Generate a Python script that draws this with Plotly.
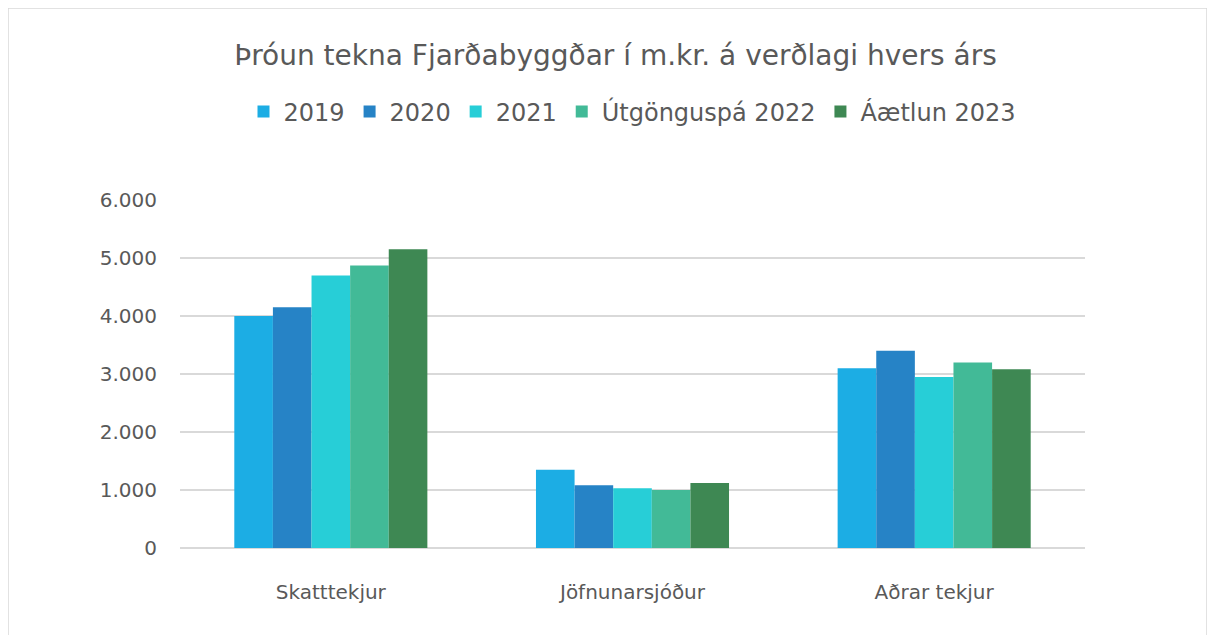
import plotly.graph_objects as go

categories = ["Skatttekjur", "Jöfnunarsjóður", "Aðrar tekjur"]
series_names = ["2019", "2020", "2021", "Útgönguspá 2022", "Áætlun 2023"]
values_2019 = [4000, 1350, 3100]
values_2020 = [4150, 1080, 3400]
values_2021 = [4700, 1030, 2950]
values_2022 = [4870, 1000, 3200]
values_2023 = [5150, 1120, 3080]
y_ticks = [0, 1000, 2000, 3000, 4000, 5000, 6000]

colors = ["#1CADE4", "#2683C6", "#27CED7", "#42BA97", "#3E8853"]
all_values = [values_2019, values_2020, values_2021, values_2022, values_2023]

fig = go.Figure()
for name, vals, col in zip(series_names, all_values, colors):
    fig.add_trace(go.Bar(name=name, x=categories, y=vals, marker=dict(color=col, line=dict(width=0))))

L, R, T, B = 172, 138, 192, 95
PW, PH = 1215 - L - R, 635 - T - B

font_family = "'DejaVu Sans', sans-serif"
fig.update_layout(
    width=1215, height=635,
    paper_bgcolor="white", plot_bgcolor="white",
    margin=dict(l=L, r=R, t=T, b=B),
    barmode="group", bargap=0.36, bargroupgap=0,
    separators=",.",
    font=dict(family=font_family, color="#595959"),
    title=dict(text="Þróun tekna Fjarðabyggðar í m.kr. á verðlagi hvers árs",
               x=0.5, xanchor="center", y=1 - 47 / 635, yanchor="middle", yref="container",
               font=dict(size=28, color="#595959", family=font_family)),
    legend=dict(orientation="h", x=0.5, xanchor="center", y=1 + 88 / PH, yanchor="middle",
                font=dict(size=24, color="#595959"), itemwidth=30, traceorder="normal"),
    showlegend=True,
)
fig.update_yaxes(range=[0, 6000], tickvals=y_ticks, tickformat=",d", showgrid=True,
                 gridcolor="#D9D9D9", gridwidth=1.5, zeroline=True, zerolinecolor="#D9D9D9",
                 zerolinewidth=1.5, showline=False, tickfont=dict(size=20, color="#595959"),
                 ticks="outside", ticklen=18, tickcolor="rgba(0,0,0,0)")
fig.update_xaxes(showgrid=False, showline=False, tickfont=dict(size=20, color="#595959"),
                 ticks="outside", ticklen=26, tickcolor="rgba(0,0,0,0)")
fig.add_shape(type="rect", xref="paper", yref="paper",
              x0=-L / PW, x1=(1199 - L) / PW, y0=-(B + 20) / PH, y1=1 + T / PH,
              line=dict(color="#D9D9D9", width=1.5), fillcolor="rgba(0,0,0,0)", layer="below")
fig.write_html("out.html")
